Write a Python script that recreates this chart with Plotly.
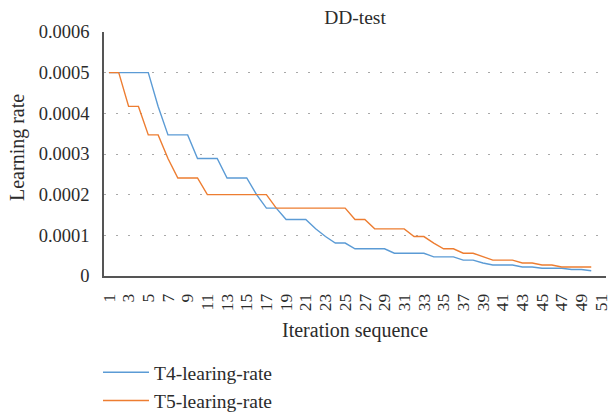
import plotly.graph_objects as go

iterations = list(range(1, 51))
t4_rate = [0.0005, 0.0005, 0.0005, 0.0005, 0.0005,
           0.000417,
           0.000347, 0.000347, 0.000347,
           0.000289, 0.000289, 0.000289,
           0.000241, 0.000241, 0.000241,
           0.0002,
           0.000167, 0.000167,
           0.000139, 0.000139, 0.000139,
           0.000116,
           0.000097,
           0.000081, 0.000081,
           0.000067, 0.000067, 0.000067, 0.000067,
           0.000056, 0.000056, 0.000056, 0.000056,
           0.000047, 0.000047, 0.000047,
           0.000039, 0.000039,
           0.000032,
           0.000027, 0.000027, 0.000027,
           0.000022, 0.000022,
           0.000019, 0.000019, 0.000019,
           0.000016, 0.000016,
           0.000013]
t5_rate = [0.0005, 0.0005,
           0.000417, 0.000417,
           0.000347, 0.000347,
           0.000289,
           0.000241, 0.000241, 0.000241,
           0.0002, 0.0002, 0.0002, 0.0002, 0.0002, 0.0002, 0.0002,
           0.000167, 0.000167, 0.000167, 0.000167, 0.000167, 0.000167, 0.000167, 0.000167,
           0.000139, 0.000139,
           0.000116, 0.000116, 0.000116, 0.000116,
           0.000097, 0.000097,
           0.000081,
           0.000067, 0.000067,
           0.000056, 0.000056,
           0.000047,
           0.000039, 0.000039, 0.000039,
           0.000032, 0.000032,
           0.000027, 0.000027,
           0.000022, 0.000022, 0.000022, 0.000022]

x_tick_vals = list(range(1, 52, 2))
x_tick_text = [str(v) for v in x_tick_vals]
y_tick_vals = [0, 0.0001, 0.0002, 0.0003, 0.0004, 0.0005, 0.0006]
y_tick_text = ["0", "0.0001", "0.0002", "0.0003", "0.0004", "0.0005", "0.0006"]

FONT = "Liberation Serif"
TXT = "#2b2b2b"
W, H = 608, 417

fig = go.Figure()
fig.add_trace(go.Scatter(x=iterations, y=t4_rate, mode="lines", name="T4-learing-rate",
                         line=dict(color="#5B9BD5", width=1.4)))
fig.add_trace(go.Scatter(x=iterations, y=t5_rate, mode="lines", name="T5-learing-rate",
                         line=dict(color="#ED7D31", width=1.4)))

fig.update_layout(
    width=W, height=H,
    margin=dict(l=104, r=2, t=32, b=141, autoexpand=False),
    paper_bgcolor="white", plot_bgcolor="white",
    font=dict(family=FONT, color=TXT, size=18),
    title=dict(text="DD-test", x=355 / W, xanchor="center", xref="container",
               y=1 - 17 / H, yanchor="middle", yref="container",
               font=dict(family=FONT, size=19.5, color=TXT)),
    showlegend=True,
    legend=dict(xref="container", yref="container", x=98 / W, y=1 - 353 / H,
                xanchor="left", yanchor="top", font=dict(family=FONT, size=19.5, color=TXT),
                bgcolor="rgba(0,0,0,0)", tracegroupgap=0, itemwidth=46),
    annotations=[
        dict(text="Iteration sequence", xref="paper", yref="paper", x=0.5, y=1 - (330 - 32) / 244,
             xanchor="center", yanchor="middle", showarrow=False,
             font=dict(family=FONT, size=20, color=TXT)),
        dict(text="Learning rate", xref="paper", yref="paper", x=-(104 - 17) / 502, y=1 - (148 - 32) / 244,
             xanchor="center", yanchor="middle", showarrow=False, textangle=-90,
             font=dict(family=FONT, size=20, color=TXT)),
    ],
)
fig.update_xaxes(
    range=[0.5, 51.5], tickmode="array", tickvals=x_tick_vals, ticktext=x_tick_text,
    tickangle=-90, showgrid=False, zeroline=False, automargin=False,
    showline=True, linecolor="#555555", linewidth=1.5,
    ticks="", ticklabelstandoff=9, ticklabeloverflow="allow",
    tickfont=dict(family=FONT, size=17.5, color=TXT),
)
fig.update_yaxes(
    range=[0, 0.0006], tickmode="array", tickvals=y_tick_vals, ticktext=y_tick_text,
    showgrid=True, gridcolor="#a8a8a8", gridwidth=1, griddash="2px,10px",
    zeroline=False, showline=True, linecolor="#555555", linewidth=1.5, automargin=False,
    ticks="", ticklabelstandoff=9,
    tickfont=dict(family=FONT, size=18.5, color=TXT),
)

fig.write_html("out.html")
